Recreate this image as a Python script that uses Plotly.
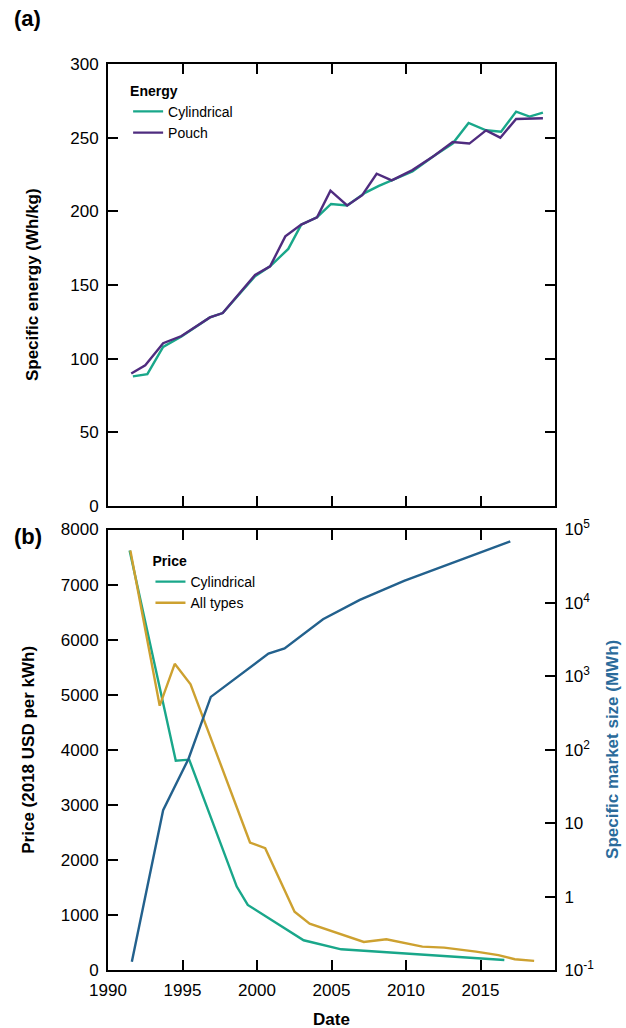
import plotly.graph_objects as go

# ---------------- data ----------------
# Panel (a): specific energy (Wh/kg)
cyl_energy_year = [1991.67, 1992.64, 1993.7, 1994.93, 1996.84, 1997.7, 1999.87, 2000.88, 2002.1,
                   2002.97, 2004.03, 2004.97, 2006.05, 2007.28, 2008.18, 2009.04, 2010.43, 2011.89,
                   2013.13, 2014.2, 2015.37, 2016.38, 2017.39, 2018.29, 2019.19]
cyl_energy = [88, 89.5, 108, 115, 128, 131, 156, 162.7, 174.5,
              191, 196, 205, 204, 212.7, 217.3, 221, 227, 237.7,
              246, 260, 255, 254, 267.7, 264.3, 267]

pouch_energy_year = [1991.56, 1992.5, 1993.7, 1994.93, 1996.84, 1997.7, 1999.87, 2000.88, 2001.9,
                     2002.97, 2004.03, 2004.93, 2006.05, 2007.06, 2008.03, 2009.04, 2010.43, 2011.89,
                     2013.13, 2014.25, 2015.37, 2016.33, 2017.39, 2019.19]
pouch_energy = [90, 95.5, 110.5, 115.4, 128, 131, 156.8, 162.7, 183,
                191, 196, 214, 204, 211, 225.5, 221, 228, 237.7,
                247, 246, 255, 250, 262.7, 263.2]

# Panel (b): price (2018 USD per kWh)
cyl_price_year = [1991.45, 1994.55, 1995.45, 1998.64, 1999.38, 2003.13, 2005.65, 2009.98, 2015.03, 2016.6]
cyl_price = [7620, 3800, 3820, 1515, 1182, 540, 376, 303, 213, 182]

all_price_year = [1991.5, 1993.47, 1994.48, 1995.54, 1999.53, 2000.55, 2002.52, 2003.53, 2007.17,
                  2008.68, 2011.1, 2012.56, 2014.7, 2016.2, 2017.3, 2018.6]
all_price = [7620, 4800, 5560, 5190, 2315, 2212, 1060, 842, 509,
             558, 424, 406, 333, 270, 195, 165]

# Panel (b): specific market size (MWh), log axis
market_year = [1991.6, 1993.7, 1995.4, 1996.9, 2000.77, 2001.85, 2004.43, 2006.9, 2009.87, 2017.0]
market_size = [0.13, 15, 75, 525, 2040, 2400, 6000, 11000, 20000, 69000]

# tick labels
year_ticks = [1990, 1995, 2000, 2005, 2010, 2015]
log_tick_vals = [0.1, 1, 10, 100, 1000, 10000, 100000]
log_tick_text = ["10<sup>-1</sup>", "1", "10", "10<sup>2</sup>", "10<sup>3</sup>", "10<sup>4</sup>", "10<sup>5</sup>"]

# ---------------- style ----------------
TEAL = "#19a78a"
PURPLE = "#4f2c7f"
GOLD = "#cda130"
BLUE = "#23618d"
FONT = "Liberation Sans, Arial, sans-serif"
LW = 2.4

fig = go.Figure()

fig.add_trace(go.Scatter(x=cyl_energy_year, y=cyl_energy, mode="lines", name="Cylindrical",
                         line=dict(color=TEAL, width=LW), xaxis="x", yaxis="y", legend="legend"))
fig.add_trace(go.Scatter(x=pouch_energy_year, y=pouch_energy, mode="lines", name="Pouch",
                         line=dict(color=PURPLE, width=LW), xaxis="x", yaxis="y", legend="legend"))

fig.add_trace(go.Scatter(x=market_year, y=market_size, mode="lines", name="Market size",
                         line=dict(color=BLUE, width=LW), xaxis="x2", yaxis="y3", showlegend=False))
fig.add_trace(go.Scatter(x=cyl_price_year, y=cyl_price, mode="lines", name="Cylindrical",
                         line=dict(color=TEAL, width=LW), xaxis="x2", yaxis="y2", legend="legend2"))
fig.add_trace(go.Scatter(x=all_price_year, y=all_price, mode="lines", name="All types",
                         line=dict(color=GOLD, width=LW), xaxis="x2", yaxis="y2", legend="legend2"))

axis_common = dict(showline=True, linecolor="black", linewidth=2, ticks="inside", ticklen=10,
                   tickwidth=2, tickcolor="black", showgrid=False, zeroline=False,
                   tickfont=dict(family=FONT, size=17, color="black"))

fig.update_layout(
    width=626, height=1028,
    margin=dict(l=108, r=71, t=64, b=58),
    paper_bgcolor="white", plot_bgcolor="white",
    font=dict(family=FONT, color="black"),
    xaxis=dict(domain=[0, 1], anchor="y", range=[1990, 2020], tickvals=year_ticks + [2020],
               showticklabels=False, mirror="ticks", **axis_common),
    yaxis=dict(domain=[0.5121, 1], anchor="x", range=[0, 300], dtick=50, mirror="ticks",
               ticklabelstandoff=4, **axis_common),
    xaxis2=dict(domain=[0, 1], anchor="y2", range=[1990, 2020], tickvals=year_ticks + [2020],
                ticktext=[str(v) for v in year_ticks] + [""], mirror="ticks",
                ticklabelstandoff=4, **axis_common),
    yaxis2=dict(domain=[0, 0.4862], anchor="x2", range=[0, 8000], dtick=1000,
                ticklabelstandoff=4, **axis_common),
    yaxis3=dict(overlaying="y2", anchor="x2", side="right", type="log", range=[-1, 5],
                tickvals=log_tick_vals, ticktext=log_tick_text, ticklabelstandoff=4, **axis_common),
    legend=dict(x=0.045, y=0.985, xanchor="left", yanchor="top", bgcolor="rgba(0,0,0,0)",
                title=dict(text="<b>Energy</b>", font=dict(family=FONT, size=14)),
                font=dict(family=FONT, size=14), tracegroupgap=0),
    legend2=dict(x=0.095, y=0.466, xanchor="left", yanchor="top", bgcolor="rgba(0,0,0,0)",
                 title=dict(text="<b>Price</b>", font=dict(family=FONT, size=14)),
                 font=dict(family=FONT, size=14), tracegroupgap=0),
    showlegend=True,
)

ann_font = dict(family=FONT, size=17, color="black")
fig.add_annotation(text="<b>Specific energy (Wh/kg)</b>", xref="paper", yref="paper",
                   x=-0.17, y=0.756, textangle=-90, showarrow=False, font=ann_font,
                   xanchor="center", yanchor="middle")
fig.add_annotation(text="<b>Price (2018 USD per kWh)</b>", xref="paper", yref="paper",
                   x=-0.177, y=0.243, textangle=-90, showarrow=False, font=ann_font,
                   xanchor="center", yanchor="middle")
fig.add_annotation(text="<b>Specific market size (MWh)</b>", xref="paper", yref="paper",
                   x=1.13, y=0.243, textangle=-90, showarrow=False,
                   font=dict(family=FONT, size=17, color="#2b6b9b"),
                   xanchor="center", yanchor="middle")
fig.add_annotation(text="<b>Date</b>", xref="paper", yref="paper",
                   x=0.5, y=-0.055, showarrow=False, font=ann_font,
                   xanchor="center", yanchor="middle")
fig.add_annotation(text="<b>(a)</b>", xref="paper", yref="paper",
                   x=-0.18, y=1.05, showarrow=False,
                   font=dict(family=FONT, size=22, color="black"), xanchor="center", yanchor="middle")
fig.add_annotation(text="<b>(b)</b>", xref="paper", yref="paper",
                   x=-0.18, y=0.478, showarrow=False,
                   font=dict(family=FONT, size=22, color="black"), xanchor="center", yanchor="middle")

fig.write_html("out.html")
